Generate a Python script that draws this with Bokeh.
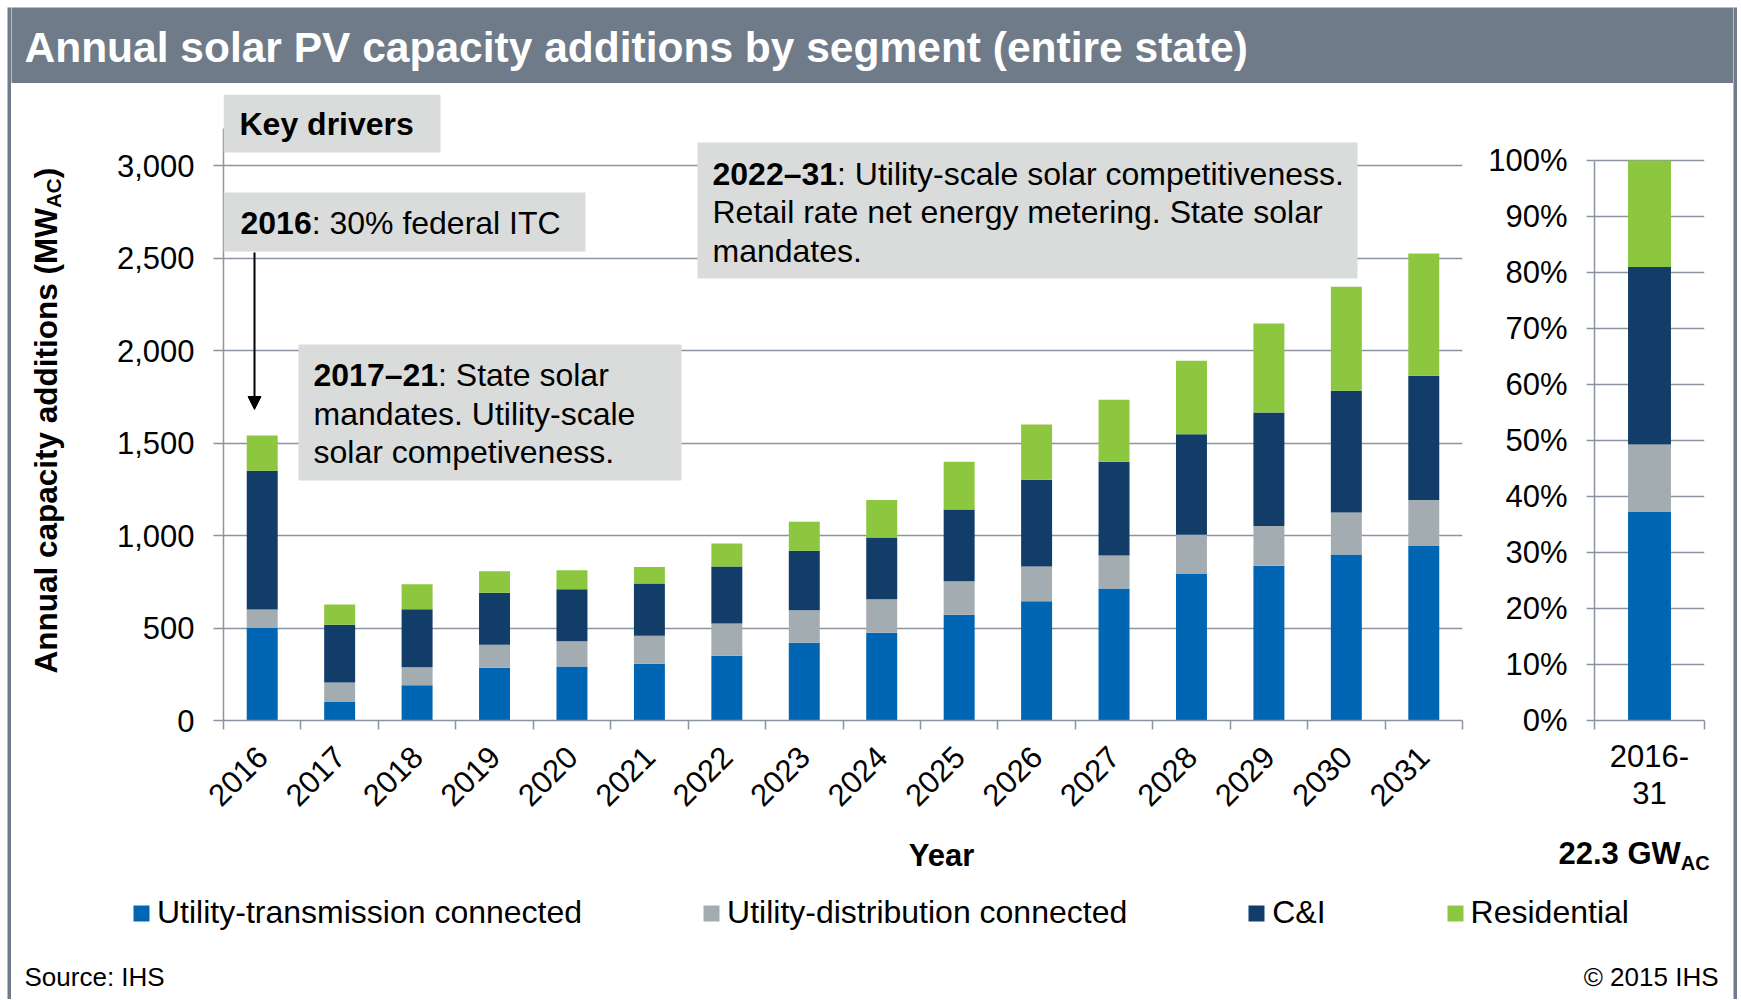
import math
from bokeh.plotting import figure
from bokeh.models import (ColumnDataSource, FactorRange, Range1d, LinearAxis, FixedTicker,
                          NumeralTickFormatter, PrintfTickFormatter, BoxAnnotation, Label,
                          Arrow, NormalHead, Legend, LegendItem)
from bokeh.layouts import column, row
from bokeh.embed import file_html
from bokeh.resources import INLINE

# ---------------- data ----------------
years = ["2016", "2017", "2018", "2019", "2020", "2021", "2022", "2023",
         "2024", "2025", "2026", "2027", "2028", "2029", "2030", "2031"]
utility_transmission = [500, 100, 190, 285, 292, 307, 350, 420, 475, 572, 645, 713, 794, 836, 897, 946]
utility_distribution = [100, 105, 98, 125, 137, 151, 175, 176, 180, 181, 187, 179, 210, 216, 228, 246]
c_and_i = [750, 312, 314, 281, 280, 282, 307, 321, 334, 388, 470, 507, 543, 613, 657, 671]
residential = [190, 110, 135, 116, 103, 90, 125, 157, 203, 258, 298, 335, 397, 481, 563, 662]

period = ["2016-\n31"]
share_transmission = [37.3]
share_distribution = [12.0]
share_c_and_i = [31.7]
share_residential = [19.0]

segments = ["Utility-transmission connected", "Utility-distribution connected", "C&I", "Residential"]
y_ticks = [0, 500, 1000, 1500, 2000, 2500, 3000]
y_axis_max = 3200
pct_ticks = [0, 10, 20, 30, 40, 50, 60, 70, 80, 90, 100]
pct_axis_max = 100
total_label = "22.3 GW"

# ---------------- styles / layout (page pixels) ----------------
FONT = "Liberation Sans"
COLORS = ["#0066B3", "#A3ACB1", "#123D68", "#8DC63F"]
FRAME_GRAY = "#6F7B89"
BOX_GRAY = "#D9DCDB"
GRID = "#8B95A1"
KEYS = ["trans", "dist", "ci", "res"]

X0, X1 = 11, 1733           # content area inside side strips
TITLE_B = 83                # bottom of title bar
MID_B = 832                 # bottom of chart row
PAGE_B = 999
YT_R = 70                   # right edge of y-title strip
SPLIT = 1480                # main | share panel split
FRAME_T, FRAME_B = 94, 720  # common frame top / bottom of the chart row
MAIN_L, MAIN_R, AXIS_T = 223, 1462, 128
RIGHT_L, RIGHT_R, PCT_T = 1594, 1704, 160

BOLD_W = {"A": 722, "n": 611, "u": 611, "a": 556, "l": 278, "c": 556, "p": 611, "i": 278,
          "t": 333, "y": 556, "d": 611, "o": 611, "s": 556, "(": 333, ")": 333, "M": 833,
          "W": 944, " ": 278, "0": 556, "1": 556, "2": 556, "3": 556, "6": 556, "7": 556,
          "–": 556, ".": 278, "G": 778, "C": 722}


def bw(s, size):
    return sum(BOLD_W[ch] for ch in s) * size / 1000.0


def mx(px):
    return (px - MAIN_L) * len(years) / (MAIN_R - MAIN_L)


def blank_fig(w, h, xr=None, yr=None, bg="white", top=0, bottom=0):
    f = figure(width=w, height=h, x_range=xr or Range1d(0, 1), y_range=yr or Range1d(0, 1),
               toolbar_location=None, title=None,
               output_backend="svg", x_axis_location=None, y_axis_location=None,
               min_border_left=0, min_border_right=0, min_border_top=top, min_border_bottom=bottom,
               background_fill_color=bg, border_fill_color=bg, outline_line_color=None)
    f.xgrid.visible = False
    f.ygrid.visible = False
    return f


def lab(fig, x, y, text, size, bold=False, color="black", align="left", angle=0.0, yr=None):
    kw = {}
    if yr:
        kw = dict(y_range_name=yr)
    fig.add_layout(Label(x=x, y=y, text=text, text_font=FONT, text_font_size=f"{size}px",
                         text_font_style="bold" if bold else "normal", text_color=color,
                         text_align=align, text_baseline="middle", angle=angle, **kw))


def box(fig, l, r, t, b):
    fig.add_layout(BoxAnnotation(left=mx(l), right=mx(r), top=t, bottom=b, fill_color=BOX_GRAY,
                                 fill_alpha=1.0, line_color=None, y_range_name="py"))


def style_y(ax, ticks, fmt, tick_out, standoff, bounds):
    ax.ticker = FixedTicker(ticks=ticks)
    ax.formatter = fmt
    ax.bounds = bounds
    ax.major_tick_out = tick_out
    ax.major_tick_in = 0
    ax.minor_tick_line_color = None
    ax.axis_line_color = GRID
    ax.axis_line_width = 1.5
    ax.major_tick_line_color = GRID
    ax.major_tick_line_width = 1.5
    ax.major_label_standoff = standoff
    ax.major_label_text_font = FONT
    ax.major_label_text_font_size = "31px"
    ax.major_label_text_color = "black"


def x_axes(fig, n, standoff, orientation):
    tick_axis = LinearAxis(ticker=FixedTicker(ticks=list(range(n + 1))),
                           major_tick_out=9, major_tick_in=0, major_label_standoff=0,
                           major_label_text_font_size="0px", major_label_text_alpha=0,
                           minor_tick_line_color=None,
                           axis_line_color=GRID, axis_line_width=1.5,
                           major_tick_line_color=GRID, major_tick_line_width=1.5)
    cat_axis = fig.xaxis[0]
    cat_axis.axis_line_color = None
    cat_axis.major_tick_line_color = None
    cat_axis.minor_tick_line_color = None
    cat_axis.major_label_standoff = standoff
    cat_axis.major_label_orientation = orientation
    cat_axis.major_label_text_font = FONT
    cat_axis.major_label_text_font_size = "31px"
    cat_axis.major_label_text_color = "black"
    fig.below = [tick_axis, cat_axis]


def chart_fig(x_range, y_max, left, right_px, frame_w):
    return figure(x_range=x_range, y_range=Range1d(0, y_max), title=None,
                  frame_width=frame_w, frame_height=FRAME_B - FRAME_T,
                  min_border_left=left, min_border_right=right_px,
                  min_border_top=FRAME_T - TITLE_B, min_border_bottom=MID_B - FRAME_B,
                  output_backend="svg", toolbar_location=None,
                  background_fill_color="white", border_fill_color="white", outline_line_color=None)


# ---------------- title strip ----------------
title_fig = blank_fig(X1 - X0, TITLE_B - 7, Range1d(X0, X1), Range1d(TITLE_B, 7), bg=FRAME_GRAY)
lab(title_fig, 24, 47, "Annual solar PV capacity additions by segment (entire state)", 42.5,
    bold=True, color="white")

# ---------------- y-axis title strip ----------------
ytitle_fig = blank_fig(YT_R - X0, MID_B - TITLE_B, Range1d(X0, YT_R), Range1d(FRAME_B, FRAME_T),
                       top=FRAME_T - TITLE_B, bottom=MID_B - FRAME_B)
ytitle = "Annual capacity additions (MW"
YT_SIZE, SUB_SIZE, YT_START = 31.5, 20.5, 673
lab(ytitle_fig, 45, YT_START, ytitle, YT_SIZE, bold=True, angle=math.pi / 2)
ac_y = YT_START - bw(ytitle, YT_SIZE)
lab(ytitle_fig, 53, ac_y, "AC", SUB_SIZE, bold=True, angle=math.pi / 2)
lab(ytitle_fig, 45, ac_y - bw("AC", SUB_SIZE), ")", YT_SIZE, bold=True, angle=math.pi / 2)

# ---------------- main chart ----------------
src = ColumnDataSource(dict(year=years, trans=utility_transmission, dist=utility_distribution,
                            ci=c_and_i, res=residential))
y_top = y_axis_max * (FRAME_B - FRAME_T) / (FRAME_B - AXIS_T)
main = chart_fig(FactorRange(*years), y_top, MAIN_L - YT_R, SPLIT - MAIN_R, MAIN_R - MAIN_L)
main.extra_y_ranges = {"py": Range1d(FRAME_B, FRAME_T)}
main.xgrid.visible = False
main.ygrid.ticker = FixedTicker(ticks=y_ticks[1:])
main.ygrid.grid_line_color = GRID
main.ygrid.grid_line_width = 1.5
style_y(main.yaxis[0], y_ticks, NumeralTickFormatter(format="0,0"), 10, 19, (0, y_axis_max))
x_axes(main, len(years), 16, math.pi / 4)

main.vbar_stack(KEYS, x="year", width=0.4, source=src, fill_color=COLORS, line_color=None)

# annotation boxes
box(main, 223, 440, 94, 152)
box(main, 223, 585, 192, 251)
box(main, 298, 681, 344, 480)
box(main, 697, 1357, 142, 278)

lab(main, mx(239), 123, "Key drivers", 32, bold=True, yr="py")
lab(main, mx(240), 222, "2016", 32, bold=True, yr="py")
lab(main, mx(240 + bw("2016", 32)), 222, ": 30% federal ITC", 32, yr="py")

lab(main, mx(313), 374, "2017–21", 32, bold=True, yr="py")
lab(main, mx(313 + bw("2017–21", 32)), 374, ": State solar", 32, yr="py")
lab(main, mx(313), 413, "mandates. Utility-scale", 32, yr="py")
lab(main, mx(313), 451, "solar competiveness.", 32, yr="py")

lab(main, mx(712), 173, "2022–31", 32, bold=True, yr="py")
lab(main, mx(712 + bw("2022–31", 32)), 173, ": Utility-scale solar competitiveness.", 32, yr="py")
lab(main, mx(712), 211, "Retail rate net energy metering. State solar", 32, yr="py")
lab(main, mx(712), 250, "mandates.", 32, yr="py")

main.add_layout(Arrow(end=NormalHead(size=13, fill_color="black", line_color="black"),
                      x_start=mx(254), y_start=252, x_end=mx(254), y_end=409, line_width=2,
                      line_color="black", y_range_name="py"))

# ---------------- right share chart ----------------
src2 = ColumnDataSource(dict(period=period, trans=share_transmission, dist=share_distribution,
                             ci=share_c_and_i, res=share_residential))
pct_top = pct_axis_max * (FRAME_B - FRAME_T) / (FRAME_B - PCT_T)
right = chart_fig(FactorRange(*period), pct_top, RIGHT_L - SPLIT, X1 - RIGHT_R, RIGHT_R - RIGHT_L)
right.xgrid.visible = False
right.ygrid.ticker = FixedTicker(ticks=pct_ticks[1:])
right.ygrid.grid_line_color = GRID
right.ygrid.grid_line_width = 1.5
style_y(right.yaxis[0], pct_ticks, PrintfTickFormatter(format="%d%%"), 8, 19, (0, pct_axis_max))
x_axes(right, len(period), 3, "horizontal")
right.xaxis[1].major_label_text_line_height = 1.08
right.vbar_stack(KEYS, x="period", width=0.39, source=src2, fill_color=COLORS, line_color=None)

# ---------------- bottom strip: axis titles, legend, source ----------------
bottom = blank_fig(X1 - X0, PAGE_B - MID_B, Range1d(X0, X1), Range1d(PAGE_B, MID_B))
lab(bottom, 941, 855, "Year", 31, bold=True, align="center")
lab(bottom, 1558, 853, total_label, 31, bold=True)
lab(bottom, 1558 + bw(total_label, 31), 862, "AC", 20, bold=True)

leg_src = ColumnDataSource(dict(x=[float("nan")], trans=share_transmission, dist=share_distribution,
                                ci=share_c_and_i, res=share_residential))
leg_rs = bottom.vbar_stack(KEYS, x="x", width=1, source=leg_src, fill_color=COLORS, line_color=None)
legend = Legend(items=[LegendItem(label=s, renderers=[r]) for s, r in zip(segments, leg_rs)],
                orientation="horizontal", location=(131 - X0, 68), spacing=119,
                glyph_width=20, glyph_height=20, label_standoff=6, label_height=16,
                padding=0, margin=0, border_line_color=None, background_fill_alpha=0,
                label_text_font=FONT, label_text_font_size="32px", label_text_color="black")
bottom.add_layout(legend)
lab(bottom, 24, 976, "Source: IHS", 26)
lab(bottom, 1718, 976, "© 2015 IHS", 26, align="right")

# ---------------- frame strips and padding ----------------
H = PAGE_B - 7
left_pad = blank_fig(7, H)
left_strip = blank_fig(4, H, bg=FRAME_GRAY)
right_strip = blank_fig(4, H, bg=FRAME_GRAY)
right_pad = blank_fig(3, H)
top_pad = blank_fig(7 + 4 + (X1 - X0) + 4 + 3, 7)

content = column(title_fig, row(ytitle_fig, main, right), bottom)
layout = column(top_pad, row(left_pad, left_strip, content, right_strip, right_pad))

open("out.html", "w").write(file_html(layout, INLINE))
